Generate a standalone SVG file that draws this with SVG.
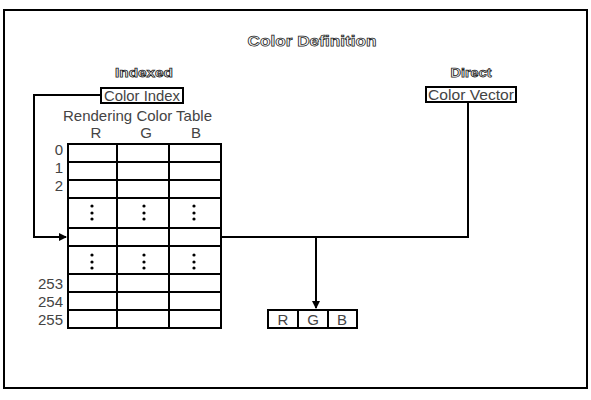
<svg xmlns="http://www.w3.org/2000/svg" width="591" height="400" viewBox="0 0 591 400">
<style>
.frame{fill:none;stroke:#000;stroke-width:2}
.box{fill:#fff;stroke:#000;stroke-width:2}
.ln{fill:none;stroke:#000;stroke-width:2}
.outl{font-family:"Liberation Sans",Arial,sans-serif;font-weight:bold;fill:#fff;stroke:#222;stroke-width:0.75;text-anchor:middle}
.t{font-family:"Liberation Sans",Arial,sans-serif;font-size:15px;fill:#444;text-anchor:middle}
.num{font-family:"Liberation Sans",Arial,sans-serif;font-size:15px;fill:#444;text-anchor:end}
.dot{fill:#000}
</style>
<defs>
<marker id="arr" markerWidth="8" markerHeight="8" refX="7" refY="4" orient="auto" markerUnits="userSpaceOnUse">
<path d="M0,0 L8,4 L0,8 Z" fill="#000"/>
</marker>
</defs>
<rect class="frame" x="4" y="10" width="583" height="378"/>
<g id="title">
<text class="outl" x="312" y="46" font-size="15.5" textLength="129" lengthAdjust="spacingAndGlyphs">Color Definition</text>
</g>
<g id="indexed-label">
<text class="outl" x="144" y="77" font-size="12.5" textLength="58" lengthAdjust="spacingAndGlyphs">Indexed</text>
</g>
<g id="direct-label">
<text class="outl" x="471" y="77" font-size="12.5" textLength="41" lengthAdjust="spacingAndGlyphs">Direct</text>
</g>
<g id="color-index">
<rect class="box" x="101" y="88" width="82" height="15"/>
<text class="t" x="142" y="101" textLength="76" lengthAdjust="spacingAndGlyphs">Color Index</text>
</g>
<g id="color-vector">
<rect class="box" x="426" y="87" width="90" height="15"/>
<text class="t" x="471" y="100" textLength="86" lengthAdjust="spacingAndGlyphs">Color Vector</text>
</g>
<g id="color-table">
<text class="t" x="137.5" y="121">Rendering Color Table</text>
<text class="t" x="96" y="138">R</text>
<text class="t" x="146" y="138">G</text>
<text class="t" x="196" y="138">B</text>
<text class="num" x="63" y="155">0</text>
<text class="num" x="63" y="173">1</text>
<text class="num" x="63" y="191">2</text>
<text class="num" x="63" y="289">253</text>
<text class="num" x="63" y="307">254</text>
<text class="num" x="63" y="325">255</text>
<rect class="box" x="68" y="144" width="153" height="184"/>
<path class="ln" d="M117,144V328M169,144V328M68,162H221M68,180H221M68,198H221M68,228H221M68,246H221M68,274H221M68,292H221M68,310H221"/>
<g class="dot">
<circle cx="92" cy="206" r="1.6"/><circle cx="92" cy="213" r="1.6"/><circle cx="92" cy="219" r="1.6"/>
<circle cx="144" cy="206" r="1.6"/><circle cx="144" cy="213" r="1.6"/><circle cx="144" cy="219" r="1.6"/>
<circle cx="194" cy="206" r="1.6"/><circle cx="194" cy="213" r="1.6"/><circle cx="194" cy="219" r="1.6"/>
<circle cx="92" cy="255" r="1.6"/><circle cx="92" cy="262" r="1.6"/><circle cx="92" cy="268" r="1.6"/>
<circle cx="144" cy="255" r="1.6"/><circle cx="144" cy="262" r="1.6"/><circle cx="144" cy="268" r="1.6"/>
<circle cx="194" cy="255" r="1.6"/><circle cx="194" cy="262" r="1.6"/><circle cx="194" cy="268" r="1.6"/>
</g>
</g>
<g id="rgb">
<rect class="box" x="268" y="310" width="89" height="18"/>
<path class="ln" d="M298,310V328M328,310V328"/>
<text class="t" x="283" y="325">R</text>
<text class="t" x="313" y="325">G</text>
<text class="t" x="342" y="325">B</text>
</g>
<g id="connectors">
<path class="ln" d="M101,95H34V237H66" marker-end="url(#arr)"/>
<path class="ln" d="M221,237H468V102"/>
<path class="ln" d="M316,237V308" marker-end="url(#arr)"/>
</g>
</svg>
